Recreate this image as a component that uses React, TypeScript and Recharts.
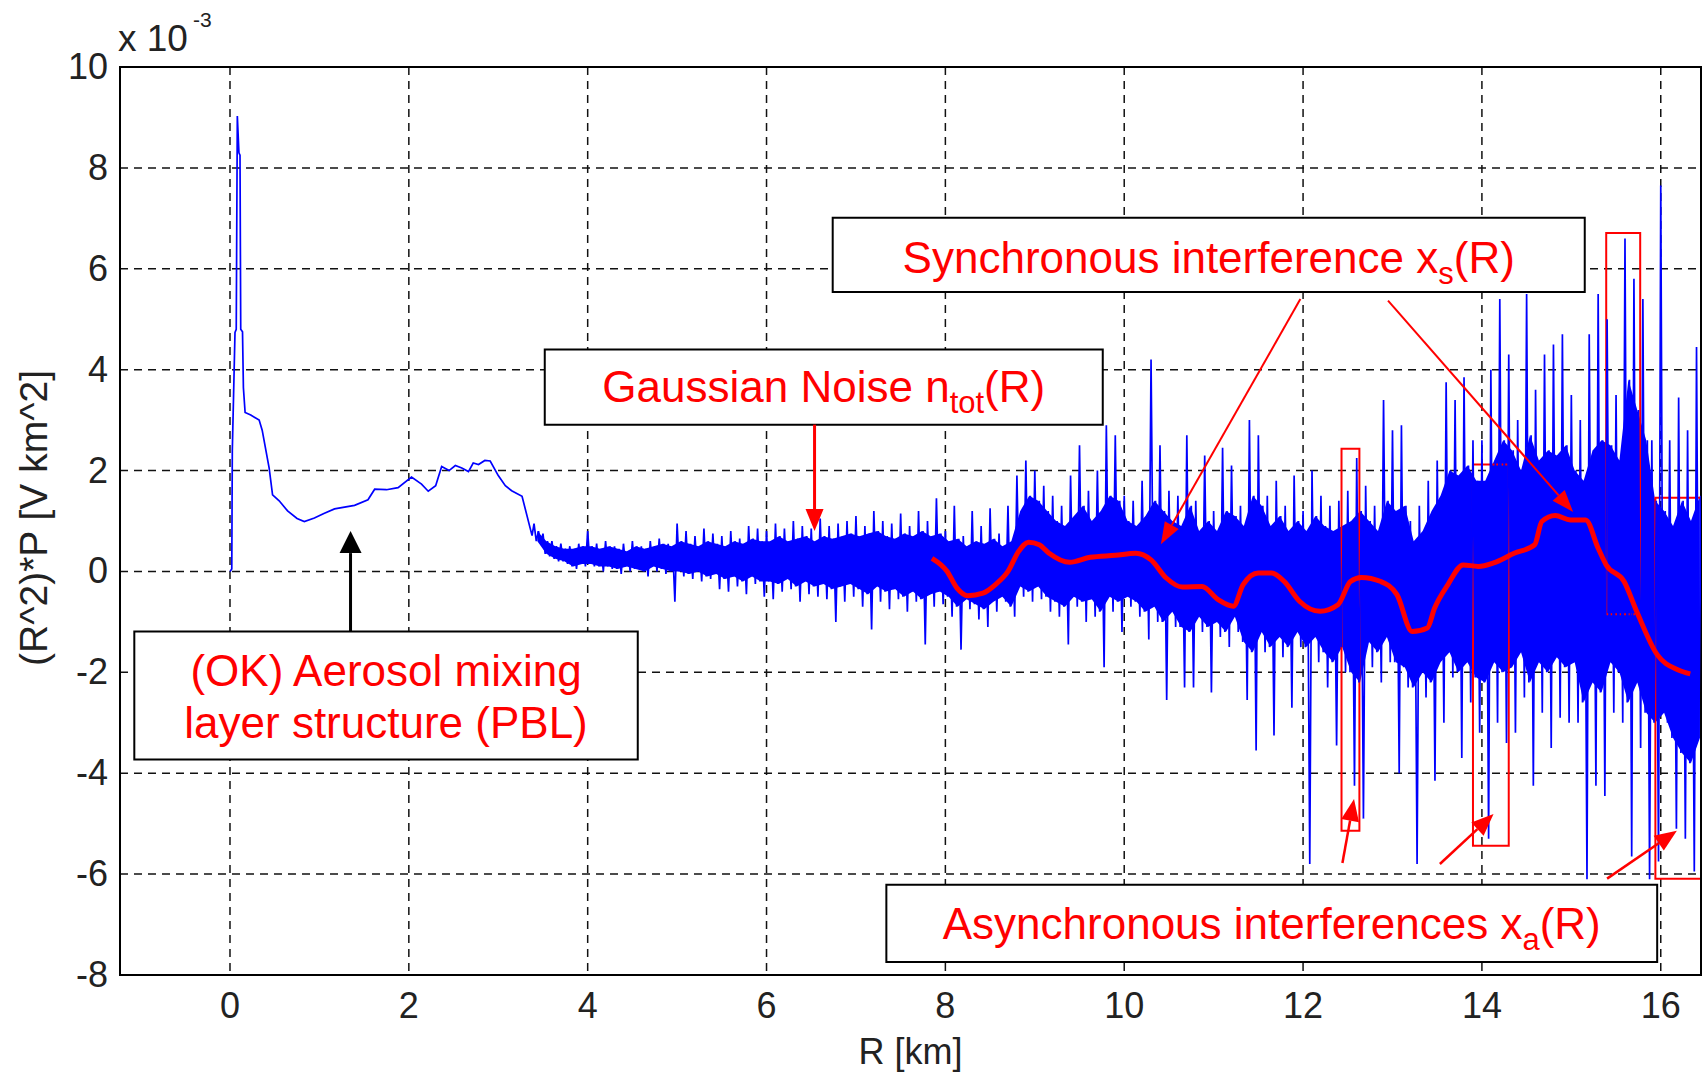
import React from "react";
import {
  Area,
  CartesianGrid,
  ComposedChart,
  Line,
  ReferenceArea,
  ReferenceLine,
  XAxis,
  YAxis,
} from "recharts";

const xTicks = [0, 2, 4, 6, 8, 10, 12, 14, 16];
const yTicks = [-8, -6, -4, -2, 0, 2, 4, 6, 8, 10];

// near range of the profile, R [km] and (R^2)*P [x1e-3 V km^2]
const nearR = [
  0, 0.02, 0.026, 0.056, 0.07, 0.082, 0.1, 0.112, 0.12, 0.14, 0.15, 0.169, 0.232, 0.326, 0.36, 0.438, 0.476,
  0.55, 0.644, 0.75, 0.831, 0.944, 1.05, 1.169, 1.393, 1.543, 1.618, 1.75, 1.88, 2.03, 2.142, 2.217, 2.3,
  2.367, 2.45, 2.52, 2.592, 2.667, 2.72, 2.779, 2.85, 2.91, 3.0, 3.079, 3.15, 3.266, 3.378,
];
const nearP = [
  0, 0.05, 2.4, 4.74, 4.8, 9.03, 8.3, 8.25, 4.8, 4.75, 3.64, 3.15, 3.1, 3.0, 2.8, 2.05, 1.52,
  1.4, 1.2, 1.05, 0.99, 1.06, 1.15, 1.24, 1.31, 1.42, 1.63, 1.62, 1.66, 1.87, 1.73, 1.59, 1.7,
  2.08, 2.0, 2.1, 2.05, 1.98, 2.15, 2.12, 2.2, 2.19, 1.9, 1.7, 1.6, 1.49, 0.71,
];

// far range, one group every 0.1 km from 3.4 km:
// spike top, band bottom, band top, spike bottom
const farStart = 3.4;
const spikeHi = [
  0.95, 0.75, 0.6, 0.55, 0.5, 0.55,
  0.8, 0.55, 0.6, 0.5, 0.55, 0.6, 0.5, 0.6, 0.65, 0.55,
  0.95, 0.8, 0.7, 0.85, 0.75, 0.7, 0.8, 0.65, 0.9, 0.85,
  0.8, 0.95, 0.85, 1.0, 0.9, 0.85, 1.05, 0.9, 0.95, 1.0,
  1.1, 0.9, 1.2, 1.0, 0.95, 1.15, 0.9, 1.2, 1.0, 1.45,
  0.8, 1.3, 0.7, 1.2, 0.9, 1.25, 0.75, 1.3, 1.9, 2.2,
  2.0, 1.7, 1.5, 1.3, 1.9, 2.5, 1.6, 2.0, 2.9, 2.7,
  1.5, 1.4, 1.8, 4.2, 2.5, 1.6, 1.5, 2.7, 1.4, 2.3,
  1.2, 2.45, 2.1, 1.3, 3.0, 2.7, 1.5, 1.8, 1.3, 1.9,
  1.2, 2.0, 1.5, 1.3, 1.4, 1.6, 2.25, 1.7, 1.3, 3.4,
  2.8, 2.9, 1.0, 1.3, 1.8, 2.2, 3.75, 3.4, 3.85, 2.6,
  2.6, 4.0, 5.4, 4.3, 3.0, 5.5, 3.6, 4.3, 4.5, 4.7,
  3.5, 3.0, 4.7, 5.5, 5.0, 3.5, 6.6, 5.8, 5.4, 2.6,
  7.65, 2.6, 3.45, 2.8, 4.45,
];
const bandLo = [
  0.6, 0.35, 0.25, 0.2, 0.1, 0.15,
  0.15, 0.1, 0.1, 0.05, 0.1, 0.05, 0.0, 0.1, 0.05, 0.0,
  0.0, -0.05, 0.0, -0.1, -0.05, -0.15, -0.1, -0.2, -0.1, -0.2,
  -0.2, -0.25, -0.15, -0.3, -0.2, -0.3, -0.25, -0.35, -0.3, -0.25,
  -0.35, -0.45, -0.3, -0.4, -0.35, -0.5, -0.4, -0.55, -0.45, -0.4,
  -0.5, -0.7, -0.55, -0.65, -0.75, -0.6, -0.5, -0.7, -0.3, -0.4,
  -0.3, -0.5, -0.6, -0.7, -0.5, -0.6, -0.55, -0.8, -0.5, -0.6,
  -0.5, -0.6, -0.8, -0.7, -1.0, -0.8, -1.1, -1.2, -0.9, -1.1,
  -1.0, -1.2, -0.9, -1.4, -1.6, -1.2, -1.5, -1.3, -1.5, -1.2,
  -1.5, -1.3, -1.6, -1.8, -1.5, -2.0, -2.2, -1.4, -1.6, -1.3,
  -1.8, -1.9, -2.3, -2.0, -2.2, -1.8, -1.6, -2.0, -1.8, -2.1,
  -2.2, -1.8, -2.0, -1.9, -1.6, -2.2, -1.8, -2.0, -1.7, -1.9,
  -1.8, -2.6, -2.2, -2.4, -1.8, -2.0, -2.6, -2.2, -2.8, -3.0,
  -2.8, -3.3, -3.6, -3.8, -3.3,
];
const bandHi = [
  0.8, 0.6, 0.5, 0.45, 0.45, 0.5,
  0.5, 0.45, 0.5, 0.45, 0.4, 0.5, 0.45, 0.5, 0.55, 0.5,
  0.6, 0.55, 0.5, 0.6, 0.55, 0.5, 0.6, 0.55, 0.65, 0.6,
  0.6, 0.7, 0.6, 0.65, 0.7, 0.6, 0.7, 0.65, 0.7, 0.75,
  0.7, 0.75, 0.8, 0.7, 0.65, 0.75, 0.7, 0.8, 0.7, 0.75,
  0.6, 0.65, 0.5, 0.6, 0.55, 0.65, 0.5, 0.6, 1.2, 1.5,
  1.4, 1.2, 1.0, 0.9, 1.1, 1.3, 1.0, 1.2, 1.5, 1.4,
  1.0, 0.9, 1.1, 1.4, 1.2, 1.0, 0.9, 1.3, 0.8, 1.0,
  0.8, 1.2, 1.1, 0.9, 1.5, 1.3, 0.9, 1.1, 0.8, 1.0,
  0.8, 1.1, 0.9, 0.8, 0.9, 1.0, 1.2, 1.0, 0.8, 1.4,
  1.2, 1.3, 0.6, 0.8, 1.2, 1.5, 2.0, 1.9, 2.1, 1.8,
  1.8, 2.2, 2.6, 2.4, 2.0, 2.7, 2.2, 2.4, 2.3, 2.5,
  2.0, 1.8, 2.4, 2.6, 2.5, 2.2, 3.8, 3.2, 2.6, 1.4,
  1.2, 0.9, 1.4, 1.0, 1.5,
];
const spikeLo = [
  0.55, 0.3, 0.2, 0.15, 0.05, 0.1,
  0.1, 0.0, 0.05, -0.05, 0.0, 0.05, -0.1, 0.0, -0.05, -0.6,
  -0.1, -0.15, -0.2, -0.15, -0.35, -0.4, -0.3, -0.45, -0.25, -0.5,
  -0.55, -0.4, -0.35, -0.6, -0.45, -0.5, -0.55, -1.0, -0.6, -0.5,
  -0.7, -1.15, -0.6, -0.75, -0.55, -0.8, -0.6, -1.45, -0.7, -0.65,
  -0.9, -1.55, -0.75, -0.95, -1.1, -0.8, -0.6, -0.9, -0.5, -0.6,
  -0.55, -0.8, -0.9, -1.45, -0.7, -1.0, -0.9, -1.9, -0.8, -1.2,
  -0.7, -0.9, -1.35, -1.0, -2.55, -1.1, -2.3, -2.3, -1.2, -2.4,
  -1.3, -1.5, -1.2, -2.55, -3.55, -1.6, -3.25, -1.7, -2.7, -1.5,
  -5.8, -1.8, -2.3, -3.45, -2.0, -4.25, -4.9, -1.9, -2.2, -1.8,
  -4.0, -2.3, -5.8, -2.5, -4.15, -3.0, -2.1, -3.7, -2.6, -3.2,
  -5.3, -3.0, -3.4, -3.2, -2.5, -4.25, -2.8, -3.5, -2.9, -3.0,
  -3.0, -6.1, -4.25, -4.45, -2.8, -3.0, -5.65, -3.5, -6.1, -5.75,
  -3.0, -5.1, -5.3, -5.95, -4.5,
];

// smoothed synchronous interference x_s(R)
const syncR = [
  7.85, 8.02, 8.13, 8.25, 8.42, 8.56, 8.7, 8.82, 8.93, 9.05, 9.16, 9.39, 9.62, 9.9, 10.13, 10.3, 10.47,
  10.65, 10.87, 11.05, 11.22, 11.33, 11.5, 11.65, 11.79, 11.96, 12.19, 12.39, 12.53, 12.65, 12.87, 13.05,
  13.22, 13.39, 13.47, 13.62, 13.79, 13.96, 14.13, 14.36, 14.59, 14.67, 14.82, 14.99, 15.16, 15.3, 15.39,
  15.59, 15.73, 15.96, 16.19, 16.33,
];
const syncP = [
  0.26, 0.0, -0.33, -0.48, -0.43, -0.26, 0.0, 0.4, 0.58, 0.53, 0.36, 0.18, 0.28, 0.32, 0.36, 0.23, -0.13,
  -0.31, -0.3, -0.56, -0.69, -0.26, -0.03, -0.03, -0.2, -0.59, -0.79, -0.66, -0.2, -0.12, -0.2, -0.46,
  -1.19, -1.12, -0.73, -0.26, 0.13, 0.1, 0.17, 0.36, 0.53, 0.99, 1.11, 1.02, 1.02, 0.46, 0.13,
  -0.2, -0.79, -1.65, -1.95, -2.03,
];

const signal = [
  ...nearR.map((r, i) => ({ r, p: nearP[i] })),
  ...spikeHi.flatMap((hi, i) => {
    const r = farStart + i * 0.1;
    return [
      { r: +r.toFixed(3), p: hi },
      { r: +(r + 0.025).toFixed(3), p: bandLo[i] },
      { r: +(r + 0.05).toFixed(3), p: bandHi[i] },
      { r: +(r + 0.075).toFixed(3), p: spikeLo[i] },
    ];
  }),
];
// the dense part of the noise, drawn as a filled range
const band = bandLo.map((lo, i) => ({ r: +(farStart + i * 0.1 + 0.0375).toFixed(4), band: [lo, bandHi[i]] }));
const sync = syncR.map((r, i) => ({ r, p: syncP[i] }));

const FONT = "'Liberation Sans', Arial, Helvetica, sans-serif";
const RED = "#ff0000";
const BLUE = "#0000ff";
const INK = "#222";
const X_DOMAIN: [number, number] = [-1.23, 16.45];

const XTick = ({ x, y, payload }: any) => (
  <text x={x} y={y + 43} textAnchor="middle" fontSize={36} fontFamily={FONT} fill={INK}>
    {payload.value}
  </text>
);

const YTick = ({ x, y, payload }: any) => (
  <text x={x - 12} y={y + 12} textAnchor="end" fontSize={36} fontFamily={FONT} fill={INK}>
    {payload.value}
  </text>
);

const xLabel = (props: any) => {
  const vb = props.viewBox || { x: 120, y: 975, width: 1581 };
  return (
    <text x={vb.x + vb.width / 2} y={vb.y + 89} textAnchor="middle" fontSize={36} fontFamily={FONT} fill={INK}>
      R [km]
    </text>
  );
};

const yLabel = (props: any) => {
  const vb = props.viewBox || { x: 0, y: 67, width: 120, height: 908 };
  const cy = vb.y + vb.height / 2 - 3;
  return (
    <g>
      <text
        x={33}
        y={cy}
        transform={`rotate(-90 33 ${cy})`}
        textAnchor="middle"
        dominantBaseline="central"
        fontSize={39}
        fontFamily={FONT}
        fill={INK}
      >
        (R^2)*P [V km^2]
      </text>
      <text x={118} y={51} fontSize={37} fontFamily={FONT} fill={INK}>
        x 10
      </text>
      <text x={193} y={27} fontSize={21} fontFamily={FONT} fill={INK}>
        -3
      </text>
    </g>
  );
};

// box text with a subscript, e.g. x_s(R)
const boxText = (before: string, sub: string, after: string, dy: number) => (props: any) => {
  const vb = props.viewBox;
  if (!vb) return null;
  return (
    <text x={vb.x + vb.width / 2} y={vb.y + dy} textAnchor="middle" fontSize={44} fontFamily={FONT} fill={RED}>
      {before}
      <tspan fontSize={31} dy={11}>
        {sub}
      </tspan>
      <tspan dy={-11}>{after}</tspan>
    </text>
  );
};

const aerosolText = (props: any) => {
  const vb = props.viewBox;
  if (!vb) return null;
  const cx = vb.x + vb.width / 2;
  return (
    <text textAnchor="middle" fontSize={44} fontFamily={FONT} fill={RED}>
      <tspan x={cx} y={vb.y + 55}>
        (OK) Aerosol mixing
      </tspan>
      <tspan x={cx} y={vb.y + 107}>
        layer structure (PBL)
      </tspan>
    </text>
  );
};

const arrow = (color: string, width: number, head: number, headW: number) => (props: any) => {
  const { x1, y1, x2, y2 } = props;
  const dx = x2 - x1;
  const dy = y2 - y1;
  const len = Math.hypot(dx, dy) || 1;
  const ux = dx / len;
  const uy = dy / len;
  const bx = x2 - ux * head;
  const by = y2 - uy * head;
  const px = (-uy * headW) / 2;
  const py = (ux * headW) / 2;
  return (
    <g>
      <line x1={x1} y1={y1} x2={bx} y2={by} stroke={color} strokeWidth={width} />
      <polygon points={`${x2},${y2} ${bx + px},${by + py} ${bx - px},${by - py}`} fill={color} />
    </g>
  );
};

export default function App() {
  return (
    <div style={{ position: "absolute", left: 0, top: 0, width: 1704, height: 1075, background: "#fff" }}>
      <ComposedChart width={1704} height={1075} margin={{ top: 67, right: 3, bottom: 0, left: 0 }}>
        <CartesianGrid stroke="#111" strokeWidth={1.5} strokeDasharray="8 6" />
        <XAxis
          type="number"
          dataKey="r"
          domain={X_DOMAIN}
          allowDataOverflow
          ticks={xTicks}
          height={100}
          tickSize={0}
          tickMargin={0}
          axisLine={false}
          tick={<XTick />}
          label={xLabel}
        />
        <YAxis
          type="number"
          domain={[-8, 10]}
          allowDataOverflow
          ticks={yTicks}
          width={120}
          tickSize={0}
          tickMargin={0}
          axisLine={false}
          tick={<YTick />}
          label={yLabel}
        />
        <Area data={band} dataKey="band" type="linear" stroke="none" fill={BLUE} fillOpacity={1} isAnimationActive={false} />
        <Line data={signal} dataKey="p" type="linear" stroke={BLUE} strokeWidth={1.7} dot={false} isAnimationActive={false} />
        <Line data={sync} dataKey="p" type="monotone" stroke={RED} strokeWidth={5} dot={false} isAnimationActive={false} />

        <ReferenceArea x1={12.43} x2={12.63} y1={-5.14} y2={2.43} fill="none" stroke={RED} strokeWidth={2} />
        <ReferenceArea x1={13.9} x2={14.3} y1={-5.44} y2={2.12} fill="none" stroke={RED} strokeWidth={2} />
        <ReferenceArea x1={15.39} x2={15.77} y1={-0.85} y2={6.71} fill="none" stroke={RED} strokeWidth={2} />
        <ReferenceArea x1={15.94} x2={16.45} y1={-6.09} y2={1.46} fill="none" stroke={RED} strokeWidth={2} />

        <ReferenceArea x1={6.74} x2={15.15} y1={5.54} y2={7.01} fill="#fff" fillOpacity={1} stroke="#000" strokeWidth={2} label={boxText("Synchronous interference x", "s", "(R)", 55)} />
        <ReferenceArea x1={3.52} x2={9.76} y1={2.91} y2={4.4} fill="#fff" fillOpacity={1} stroke="#000" strokeWidth={2} label={boxText("Gaussian Noise n", "tot", "(R)", 53)} />
        <ReferenceArea x1={-1.07} x2={4.56} y1={-3.73} y2={-1.19} fill="#fff" fillOpacity={1} stroke="#000" strokeWidth={2} label={aerosolText} />
        <ReferenceArea x1={7.34} x2={15.96} y1={-7.74} y2={-6.21} fill="#fff" fillOpacity={1} stroke="#000" strokeWidth={2} label={boxText("Asynchronous interferences x", "a", "(R)", 54)} />

        <ReferenceLine segment={[{ x: 1.348, y: -1.19 }, { x: 1.348, y: 0.8 }]} shape={arrow("#000", 3, 22, 22)} />
        <ReferenceLine segment={[{ x: 6.537, y: 2.91 }, { x: 6.537, y: 0.8 }]} shape={arrow(RED, 3, 22, 18)} />
        <ReferenceLine segment={[{ x: 11.97, y: 5.4 }, { x: 10.41, y: 0.54 }]} shape={arrow(RED, 2, 22, 16)} />
        <ReferenceLine segment={[{ x: 12.95, y: 5.37 }, { x: 15.02, y: 1.18 }]} shape={arrow(RED, 2, 22, 16)} />
        <ReferenceLine segment={[{ x: 12.44, y: -5.78 }, { x: 12.57, y: -4.51 }]} shape={arrow(RED, 2.5, 22, 18)} />
        <ReferenceLine segment={[{ x: 13.53, y: -5.8 }, { x: 14.13, y: -4.81 }]} shape={arrow(RED, 2.5, 22, 18)} />
        <ReferenceLine segment={[{ x: 15.4, y: -6.09 }, { x: 16.18, y: -5.14 }]} shape={arrow(RED, 2.5, 22, 18)} />

        <ReferenceArea x1={X_DOMAIN[0]} x2={X_DOMAIN[1]} y1={-8} y2={10} fill="none" stroke="#000" strokeWidth={2} />
      </ComposedChart>
    </div>
  );
}
